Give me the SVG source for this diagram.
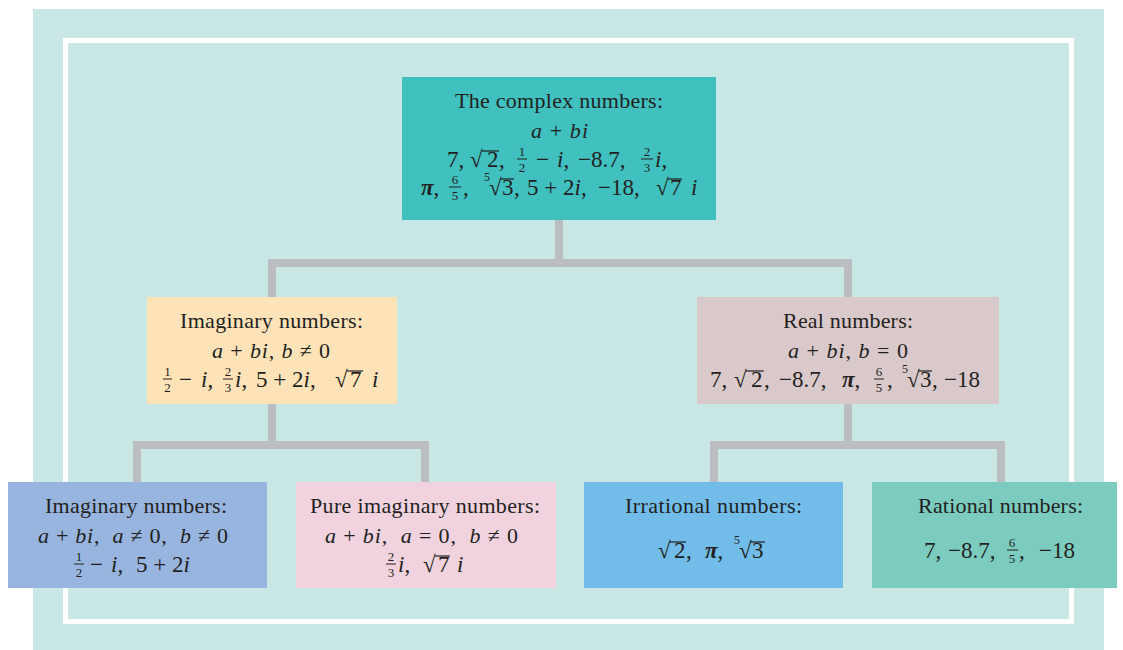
<svg xmlns="http://www.w3.org/2000/svg" width="1123" height="650" viewBox="0 0 1123 650">
<style>
.t{font-family:"Liberation Serif","Times New Roman",serif;fill:#231F20;font-size:22px;white-space:pre}
.m{font-size:23px}
.it{font-style:italic}
.pi{font-style:italic;font-weight:bold}
.fr{font-family:"Liberation Serif","Times New Roman",serif;fill:#231F20;font-size:13px;text-anchor:middle}
.ix{font-family:"Liberation Serif","Times New Roman",serif;fill:#231F20;font-size:12px}
.bar{stroke:#231F20;stroke-width:1}
.vin{stroke:#231F20;stroke-width:1.2}
.conn{fill:none;stroke:#BCBDC0;stroke-width:8;stroke-linejoin:miter}
</style>
<rect x="33" y="9" width="1071" height="641" fill="#C9E7E5"/>
<rect x="65.5" y="40.5" width="1006" height="581" fill="none" stroke="#FFFFFF" stroke-width="5"/>
<g id="connectors">
<path class="conn" d="M559 220 V263 M272 297 V263 H848 V297"/>
<path class="conn" d="M272 404 V445 M137 482 V445 H425 V482"/>
<path class="conn" d="M848 404 V445 M714 482 V445 H1001 V482"/>
</g>
<g id="complex">
<rect x="402" y="77" width="314" height="143" fill="#40C0BF"/>
<text class="t" x="455" y="108" textLength="208" lengthAdjust="spacing">The complex numbers:</text>
<text class="t" x="531" y="138" textLength="57" lengthAdjust="spacing"><tspan class="it">a</tspan> + <tspan class="it">bi</tspan></text>
<text class="t m" y="167"><tspan x="447">7,</tspan><tspan x="470">√</tspan><tspan x="487">2</tspan><tspan x="499">,</tspan><tspan x="536">−</tspan><tspan x="557" class="it">i</tspan><tspan>,</tspan><tspan x="578">−8.7,</tspan><tspan x="655" class="it">i</tspan><tspan>,</tspan></text>
<line class="vin" x1="482" y1="151" x2="499" y2="151"/>
<text class="fr" x="522" y="156">1</text><line class="bar" x1="517" y1="159" x2="527" y2="159"/><text class="fr" x="522" y="172">2</text>
<text class="fr" x="647" y="156">2</text><line class="bar" x1="641" y1="159" x2="653" y2="159"/><text class="fr" x="647" y="172">3</text>
<text class="t m" y="195"><tspan x="421" class="pi">π</tspan><tspan>,</tspan><tspan x="463">,</tspan><tspan x="489">√</tspan><tspan x="502">3</tspan><tspan x="514">,</tspan><tspan x="527">5 + 2</tspan><tspan class="it">i</tspan><tspan>,</tspan><tspan x="598">−18,</tspan><tspan x="656">√</tspan><tspan x="670">7</tspan><tspan x="691" class="it">i</tspan></text>
<text class="ix" x="484" y="181">5</text>
<line class="vin" x1="500" y1="179" x2="514" y2="179"/>
<line class="vin" x1="668" y1="179" x2="682" y2="179"/>
<text class="fr" x="455" y="184">6</text><line class="bar" x1="449" y1="187" x2="461" y2="187"/><text class="fr" x="455" y="200">5</text>
</g>
<g id="imaginary">
<rect x="147" y="297" width="250" height="107" fill="#FEE3B8"/>
<text class="t" x="180" y="328" textLength="183" lengthAdjust="spacing">Imaginary numbers:</text>
<text class="t" x="212" y="358" textLength="118" lengthAdjust="spacing"><tspan class="it">a</tspan> + <tspan class="it">bi</tspan>, <tspan class="it">b</tspan> ≠ 0</text>
<text class="fr" x="167.5" y="376">1</text><line class="bar" x1="163" y1="379" x2="172" y2="379"/><text class="fr" x="167.5" y="392">2</text>
<text class="fr" x="228" y="376">2</text><line class="bar" x1="223" y1="379" x2="233" y2="379"/><text class="fr" x="228" y="392">3</text>
<text class="t m" y="387"><tspan x="179">−</tspan><tspan x="201" class="it">i</tspan><tspan>,</tspan><tspan x="235" class="it">i</tspan><tspan>,</tspan><tspan x="256">5 + 2</tspan><tspan class="it">i</tspan><tspan>,</tspan><tspan x="335">√</tspan><tspan x="350">7</tspan><tspan x="372" class="it">i</tspan></text>
<line class="vin" x1="347" y1="371" x2="363" y2="371"/>
</g>
<g id="real">
<rect x="697" y="297" width="302" height="107" fill="#D9C9CA"/>
<text class="t" x="783" y="328" textLength="130" lengthAdjust="spacing">Real numbers:</text>
<text class="t" x="788" y="358" textLength="120" lengthAdjust="spacing"><tspan class="it">a</tspan> + <tspan class="it">bi</tspan>, <tspan class="it">b</tspan> = 0</text>
<text class="t m" y="387"><tspan x="710">7,</tspan><tspan x="734">√</tspan><tspan x="751">2</tspan><tspan x="764">,</tspan><tspan x="779">−8.7,</tspan><tspan x="842" class="pi">π</tspan><tspan>,</tspan><tspan x="887">,</tspan><tspan x="907">√</tspan><tspan x="920">3</tspan><tspan x="932">,</tspan><tspan x="944">−18</tspan></text>
<line class="vin" x1="746" y1="371" x2="764" y2="371"/>
<line class="vin" x1="918" y1="371" x2="932" y2="371"/>
<text class="ix" x="902" y="373">5</text>
<text class="fr" x="879" y="376">6</text><line class="bar" x1="874" y1="379" x2="884" y2="379"/><text class="fr" x="879" y="392">5</text>
</g>
<g id="imaginary2">
<rect x="8" y="482" width="259" height="106" fill="#97B5DF"/>
<text class="t" x="45" y="513" textLength="182" lengthAdjust="spacing">Imaginary numbers:</text>
<text class="t" x="38" y="543" textLength="190" lengthAdjust="spacing"><tspan class="it">a</tspan> + <tspan class="it">bi</tspan>,  <tspan class="it">a</tspan> ≠ 0,  <tspan class="it">b</tspan> ≠ 0</text>
<text class="fr" x="79" y="561">1</text><line class="bar" x1="74" y1="564" x2="84" y2="564"/><text class="fr" x="79" y="577">2</text>
<text class="t m" y="572"><tspan x="90">−</tspan><tspan x="111" class="it">i</tspan><tspan>,</tspan><tspan x="136">5 + 2</tspan><tspan class="it">i</tspan></text>
</g>
<g id="pure">
<rect x="296" y="482" width="260" height="106" fill="#F0D3DF"/>
<text class="t" x="310" y="513" textLength="230" lengthAdjust="spacing">Pure imaginary numbers:</text>
<text class="t" x="325" y="543" textLength="193" lengthAdjust="spacing"><tspan class="it">a</tspan> + <tspan class="it">bi</tspan>,  <tspan class="it">a</tspan> = 0,  <tspan class="it">b</tspan> ≠ 0</text>
<text class="fr" x="391" y="561">2</text><line class="bar" x1="386" y1="564" x2="396" y2="564"/><text class="fr" x="391" y="577">3</text>
<text class="t m" y="572"><tspan x="398" class="it">i</tspan><tspan>,</tspan><tspan x="423">√</tspan><tspan x="438">7</tspan><tspan x="457" class="it">i</tspan></text>
<line class="vin" x1="435" y1="556" x2="450" y2="556"/>
</g>
<g id="irrational">
<rect x="584" y="482" width="259" height="106" fill="#71BCE8"/>
<text class="t" x="625" y="513" textLength="177" lengthAdjust="spacing">Irrational numbers:</text>
<text class="t m" y="558"><tspan x="658">√</tspan><tspan x="674">2</tspan><tspan x="686">,</tspan><tspan x="705" class="pi">π</tspan><tspan>,</tspan><tspan x="739">√</tspan><tspan x="752">3</tspan></text>
<line class="vin" x1="670" y1="542" x2="686" y2="542"/>
<line class="vin" x1="750" y1="542" x2="765" y2="542"/>
<text class="ix" x="734" y="544">5</text>
</g>
<g id="rational">
<rect x="872" y="482" width="245" height="106" fill="#7BCCBF"/>
<text class="t" x="918" y="513" textLength="165" lengthAdjust="spacing">Rational numbers:</text>
<text class="t m" y="558"><tspan x="924">7,</tspan><tspan x="948">−8.7,</tspan><tspan x="1019">,</tspan><tspan x="1039">−18</tspan></text>
<text class="fr" x="1012" y="547">6</text><line class="bar" x1="1007" y1="550" x2="1018" y2="550"/><text class="fr" x="1012" y="563">5</text>
</g>
</svg>
